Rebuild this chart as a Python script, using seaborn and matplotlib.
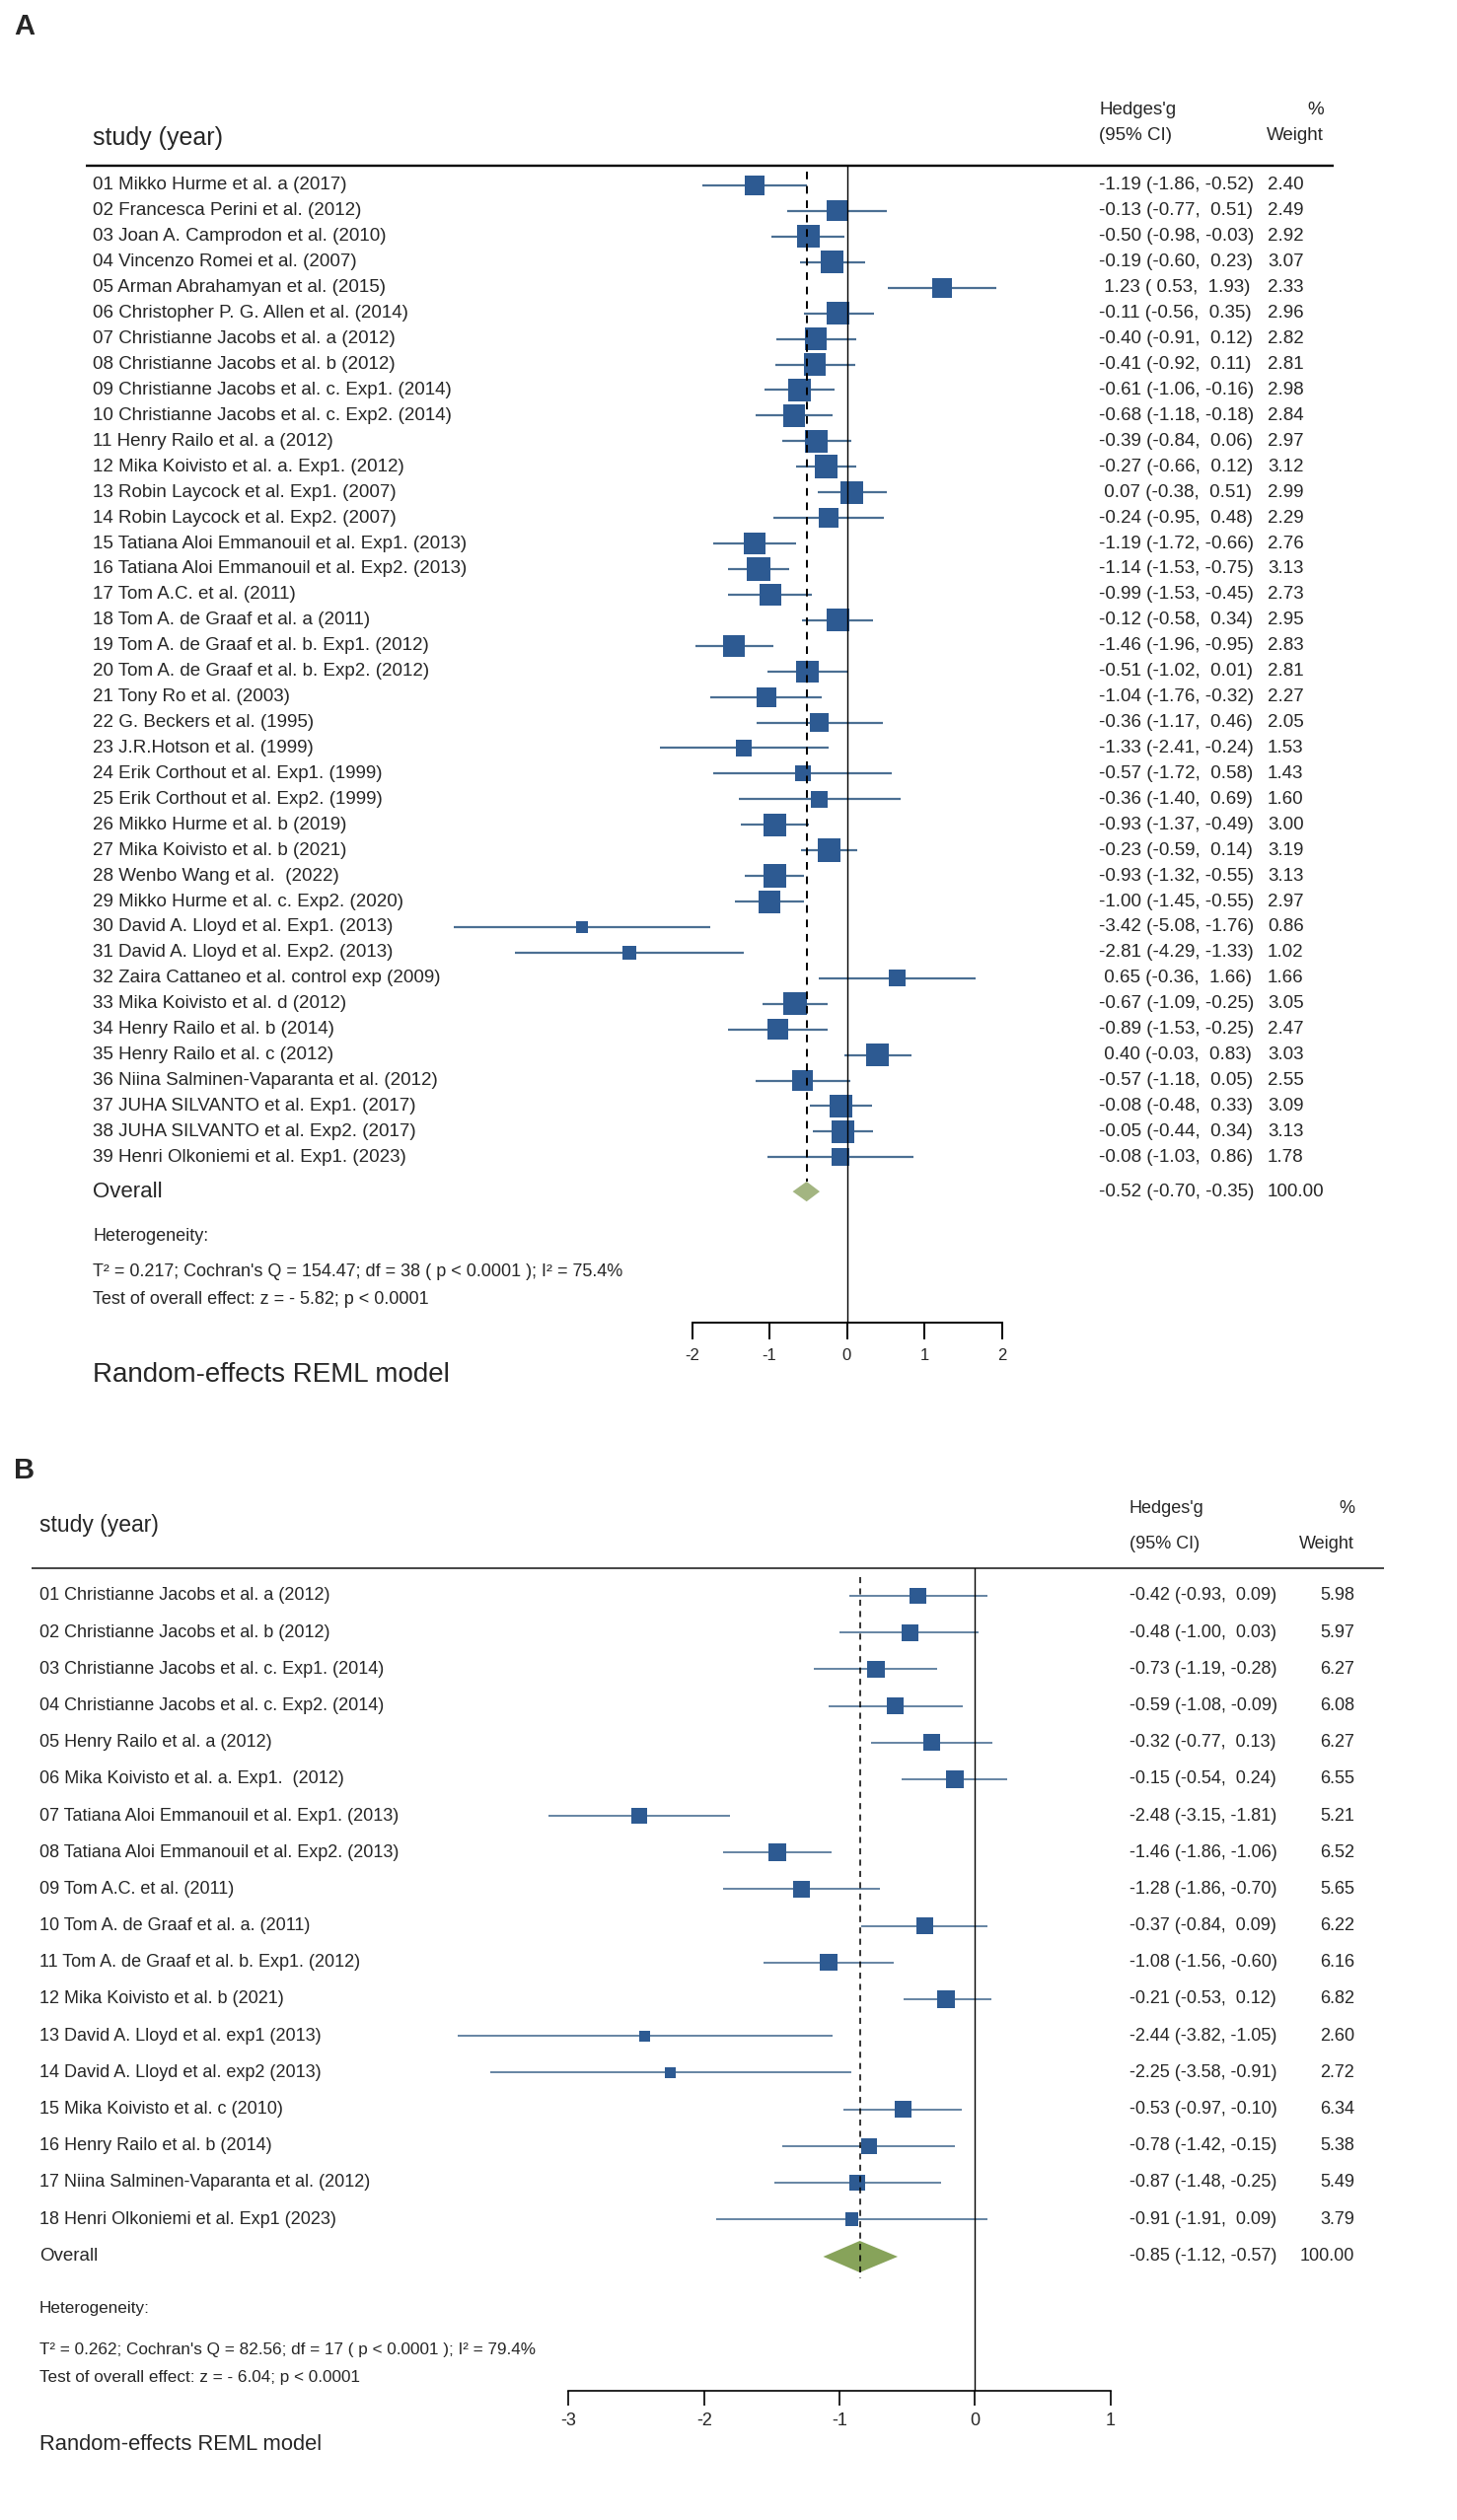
import numpy as np
import pandas as pd
import matplotlib
matplotlib.use('Agg')
import matplotlib.pyplot as plt
import matplotlib.transforms as mtransforms
import seaborn as sns

# ---------------- data, panel A ----------------
studies_a = [
    "01 Mikko Hurme et al. a (2017)",
    "02 Francesca Perini et al. (2012)",
    "03 Joan A. Camprodon et al. (2010)",
    "04 Vincenzo Romei et al. (2007)",
    "05 Arman Abrahamyan et al. (2015)",
    "06 Christopher P. G. Allen et al. (2014)",
    "07 Christianne Jacobs et al. a (2012)",
    "08 Christianne Jacobs et al. b (2012)",
    "09 Christianne Jacobs et al. c. Exp1. (2014)",
    "10 Christianne Jacobs et al. c. Exp2. (2014)",
    "11 Henry Railo et al. a (2012)",
    "12 Mika Koivisto et al. a. Exp1. (2012)",
    "13 Robin Laycock et al. Exp1. (2007)",
    "14 Robin Laycock et al. Exp2. (2007)",
    "15 Tatiana Aloi Emmanouil et al. Exp1. (2013)",
    "16 Tatiana Aloi Emmanouil et al. Exp2. (2013)",
    "17 Tom A.C. et al. (2011)",
    "18 Tom A. de Graaf et al. a (2011)",
    "19 Tom A. de Graaf et al. b. Exp1. (2012)",
    "20 Tom A. de Graaf et al. b. Exp2. (2012)",
    "21 Tony Ro et al. (2003)",
    "22 G. Beckers et al. (1995)",
    "23 J.R.Hotson et al. (1999)",
    "24 Erik Corthout et al. Exp1. (1999)",
    "25 Erik Corthout et al. Exp2. (1999)",
    "26 Mikko Hurme et al. b (2019)",
    "27 Mika Koivisto et al. b (2021)",
    "28 Wenbo Wang et al.  (2022)",
    "29 Mikko Hurme et al. c. Exp2. (2020)",
    "30 David A. Lloyd et al. Exp1. (2013)",
    "31 David A. Lloyd et al. Exp2. (2013)",
    "32 Zaira Cattaneo et al. control exp (2009)",
    "33 Mika Koivisto et al. d (2012)",
    "34 Henry Railo et al. b (2014)",
    "35 Henry Railo et al. c (2012)",
    "36 Niina Salminen-Vaparanta et al. (2012)",
    "37 JUHA SILVANTO et al. Exp1. (2017)",
    "38 JUHA SILVANTO et al. Exp2. (2017)",
    "39 Henri Olkoniemi et al. Exp1. (2023)",
]
g_a = [-1.19, -0.13, -0.50, -0.19, 1.23, -0.11, -0.40, -0.41, -0.61, -0.68,
       -0.39, -0.27, 0.07, -0.24, -1.19, -1.14, -0.99, -0.12, -1.46, -0.51,
       -1.04, -0.36, -1.33, -0.57, -0.36, -0.93, -0.23, -0.93, -1.00, -3.42,
       -2.81, 0.65, -0.67, -0.89, 0.40, -0.57, -0.08, -0.05, -0.08]
lo_a = [-1.86, -0.77, -0.98, -0.60, 0.53, -0.56, -0.91, -0.92, -1.06, -1.18,
        -0.84, -0.66, -0.38, -0.95, -1.72, -1.53, -1.53, -0.58, -1.96, -1.02,
        -1.76, -1.17, -2.41, -1.72, -1.40, -1.37, -0.59, -1.32, -1.45, -5.08,
        -4.29, -0.36, -1.09, -1.53, -0.03, -1.18, -0.48, -0.44, -1.03]
hi_a = [-0.52, 0.51, -0.03, 0.23, 1.93, 0.35, 0.12, 0.11, -0.16, -0.18,
        0.06, 0.12, 0.51, 0.48, -0.66, -0.75, -0.45, 0.34, -0.95, 0.01,
        -0.32, 0.46, -0.24, 0.58, 0.69, -0.49, 0.14, -0.55, -0.55, -1.76,
        -1.33, 1.66, -0.25, -0.25, 0.83, 0.05, 0.33, 0.34, 0.86]
w_a = [2.40, 2.49, 2.92, 3.07, 2.33, 2.96, 2.82, 2.81, 2.98, 2.84,
       2.97, 3.12, 2.99, 2.29, 2.76, 3.13, 2.73, 2.95, 2.83, 2.81,
       2.27, 2.05, 1.53, 1.43, 1.60, 3.00, 3.19, 3.13, 2.97, 0.86,
       1.02, 1.66, 3.05, 2.47, 3.03, 2.55, 3.09, 3.13, 1.78]
overall_a = (-0.52, -0.70, -0.35, 100.00)
het_a = ["Heterogeneity:",
         "T\u00b2 = 0.217; Cochran's Q = 154.47; df = 38 ( p < 0.0001 ); I\u00b2 = 75.4%",
         "Test of overall effect: z = - 5.82; p < 0.0001"]
ticks_a = [-2, -1, 0, 1, 2]

# ---------------- data, panel B ----------------
studies_b = [
    "01 Christianne Jacobs et al. a (2012)",
    "02 Christianne Jacobs et al. b (2012)",
    "03 Christianne Jacobs et al. c. Exp1. (2014)",
    "04 Christianne Jacobs et al. c. Exp2. (2014)",
    "05 Henry Railo et al. a (2012)",
    "06 Mika Koivisto et al. a. Exp1.  (2012)",
    "07 Tatiana Aloi Emmanouil et al. Exp1. (2013)",
    "08 Tatiana Aloi Emmanouil et al. Exp2. (2013)",
    "09 Tom A.C. et al. (2011)",
    "10 Tom A. de Graaf et al. a. (2011)",
    "11 Tom A. de Graaf et al. b. Exp1. (2012)",
    "12 Mika Koivisto et al. b (2021)",
    "13 David A. Lloyd et al. exp1 (2013)",
    "14 David A. Lloyd et al. exp2 (2013)",
    "15 Mika Koivisto et al. c (2010)",
    "16 Henry Railo et al. b (2014)",
    "17 Niina Salminen-Vaparanta et al. (2012)",
    "18 Henri Olkoniemi et al. Exp1 (2023)",
]
g_b = [-0.42, -0.48, -0.73, -0.59, -0.32, -0.15, -2.48, -1.46, -1.28,
       -0.37, -1.08, -0.21, -2.44, -2.25, -0.53, -0.78, -0.87, -0.91]
lo_b = [-0.93, -1.00, -1.19, -1.08, -0.77, -0.54, -3.15, -1.86, -1.86,
        -0.84, -1.56, -0.53, -3.82, -3.58, -0.97, -1.42, -1.48, -1.91]
hi_b = [0.09, 0.03, -0.28, -0.09, 0.13, 0.24, -1.81, -1.06, -0.70,
        0.09, -0.60, 0.12, -1.05, -0.91, -0.10, -0.15, -0.25, 0.09]
w_b = [5.98, 5.97, 6.27, 6.08, 6.27, 6.55, 5.21, 6.52, 5.65,
       6.22, 6.16, 6.82, 2.60, 2.72, 6.34, 5.38, 5.49, 3.79]
overall_b = (-0.85, -1.12, -0.57, 100.00)
het_b = ["Heterogeneity:",
         "T\u00b2 = 0.262; Cochran's Q = 82.56; df = 17 ( p < 0.0001 ); I\u00b2 = 79.4%",
         "Test of overall effect: z = - 6.04; p < 0.0001"]
ticks_b = [-3, -2, -1, 0, 1]

sns.set_theme(style='white')
plt.rcParams['font.family'] = ['Liberation Sans', 'DejaVu Sans']
plt.rcParams['axes.unicode_minus'] = False

W, H = 1477, 2555
fig = plt.figure(figsize=(W / 100, H / 100), dpi=100)

SQ = '#2d5a92'
LN = '#4b6f93'


def ci_text(g, lo, hi):
    return f"{g:5.2f} ({lo:5.2f}, {hi:5.2f})"


def forest(names, g, lo, hi, w, overall, het, ticks, st):
    df = pd.DataFrame({'study': names, 'g': g, 'lo': lo, 'hi': hi, 'w': w})
    df['row'] = np.arange(1, len(df) + 1)
    n = len(df)

    def row_at(py):
        return 1 + (py - st['row1']) / st['step']

    ax = fig.add_axes([0, 1 - st['y_axis'] / H, 1, (st['y_axis'] - st['y_top']) / H])
    ax.set_xlim(-st['x0'] / st['ppu'], (W - st['x0']) / st['ppu'])
    ytop, ybot = row_at(st['y_top']), row_at(st['y_axis'])
    ax.set_ylim(ybot, ytop)

    ax.hlines(df['row'], df['lo'], df['hi'], color=LN, lw=st['ci_lw'], zorder=2)
    k = st['k']
    sns.scatterplot(data=df, x='g', y='row', size='w',
                    sizes=(k * df['w'].min(), k * df['w'].max()),
                    marker='s', color=SQ, linewidth=0, legend=False,
                    ax=ax, zorder=3)

    og, olo, ohi, ow = overall
    orow = n + st['ov_gap']
    h = st['dh']
    ax.fill([olo, og, ohi, og], [orow, orow - h, orow, orow + h],
            color=st['dia'], lw=0, zorder=3)
    ax.axvline(0, color='black', lw=1.0, zorder=4)
    ax.vlines(og, ytop + 0.25, orow + st['dash_end'] * h, color='black',
              lw=st['dash_lw'], linestyles=(0, (4, 3.5)), zorder=4)

    ax.set_xlabel('')
    ax.set_ylabel('')
    ax.set_yticks([])
    for s in ['top', 'left', 'right']:
        ax.spines[s].set_visible(False)
    ax.spines['bottom'].set_bounds(ticks[0], ticks[-1])
    ax.spines['bottom'].set_color('black')
    ax.spines['bottom'].set_linewidth(st['ax_lw'])
    ax.set_xticks(ticks)
    ax.set_xticklabels([str(t) for t in ticks])
    ax.tick_params(axis='x', direction='out', length=st['tick_len'],
                   width=st['ax_lw'], pad=st['tick_pad'],
                   labelsize=st['tick_fs'], bottom=True, color='black')

    # header rule
    ax.plot([st['rule'][0] / W, st['rule'][1] / W], [1, 1], transform=ax.transAxes,
            color=st['rule_c'], lw=st['rule_lw'], clip_on=False, solid_capstyle='butt')

    tr = mtransforms.blended_transform_factory(ax.transAxes, ax.transData)
    fs = st['fs']
    for _, r in df.iterrows():
        ax.text(st['x_lab'] / W, r['row'], r['study'], transform=tr,
                fontsize=fs, va='center', ha='left')
        ax.text(st['x_ci'] / W, r['row'], ci_text(r['g'], r['lo'], r['hi']),
                transform=tr, fontsize=fs, va='center', ha='left')
        ax.text(st['x_w'] / W, r['row'], f"{r['w']:.2f}", transform=tr,
                fontsize=fs, va='center', ha=st['w_ha'])
    ax.text(st['x_lab'] / W, orow, 'Overall', transform=tr,
            fontsize=st['ov_fs'], va='center', ha='left')
    ax.text(st['x_ci'] / W, orow, ci_text(og, olo, ohi), transform=tr,
            fontsize=fs, va='center', ha='left')
    ax.text(st['x_w'] / W, orow, f"{ow:.2f}", transform=tr,
            fontsize=fs, va='center', ha=st['w_ha'])
    for txt, py in zip(het, st['het_y']):
        ax.text(st['x_lab'] / W, row_at(py), txt, transform=tr,
                fontsize=st['het_fs'], va='center', ha='left')

    # titles above / below the axes
    fig.text(st['x_lab'] / W, 1 - st['study_y'] / H, 'study (year)',
             fontsize=st['study_fs'], va='center', ha='left')
    fig.text(st['x_ci'] / W, 1 - st['h1_y'] / H, "Hedges'g", fontsize=fs, va='center')
    fig.text(st['x_ci'] / W, 1 - st['h2_y'] / H, "(95% CI)", fontsize=fs, va='center')
    fig.text(st['x_pct'] / W, 1 - st['h1_y'] / H, "%", fontsize=fs, va='center', ha='right')
    fig.text(st['x_pct'] / W, 1 - st['h2_y'] / H, "Weight", fontsize=fs, va='center', ha='right')
    fig.text(st['x_lab'] / W, 1 - st['model_y'] / H, 'Random-effects REML model',
             fontsize=st['model_fs'], va='center', ha='left')
    fig.text(14 / W, 1 - st['panel_y'] / H, st['panel'], fontsize=21,
             fontweight='bold', va='center', ha='left')
    return ax


style_a = dict(panel='A', panel_y=27, x0=858.5, ppu=78.5, y_top=168, y_axis=1341,
               row1=188, step=25.93, k=(0.72 * 13.3) ** 2, ci_lw=1.6,
               ov_gap=1.34, dh=0.39, dia='#a3b581', dash_end=-1.0, dash_lw=1.4,
               ax_lw=1.4, tick_len=12, tick_pad=7, tick_fs=12,
               rule=(87, 1352), rule_c='black', rule_lw=1.7,
               x_lab=94, x_ci=1114, x_w=1285, w_ha='left', x_pct=1342,
               fs=13.5, ov_fs=16, het_fs=13,
               het_y=(1254, 1290, 1317),
               study_y=140, study_fs=18, h1_y=112, h2_y=137,
               model_y=1394, model_fs=20)

style_b = dict(panel='B', panel_y=1491, x0=988.3, ppu=137.3, y_top=1590, y_axis=2424,
               row1=1618, step=37.18, k=(0.72 * 6.9) ** 2, ci_lw=1.2,
               ov_gap=1.02, dh=0.43, dia='#87a35a', dash_end=1.4, dash_lw=1.1,
               ax_lw=1.2, tick_len=11, tick_pad=4.5, tick_fs=13,
               rule=(32, 1403), rule_c='#444444', rule_lw=1.4,
               x_lab=40, x_ci=1145, x_w=1373, w_ha='right', x_pct=1373,
               fs=13, ov_fs=13.5, het_fs=12.3,
               het_y=(2341, 2382, 2411),
               study_y=1547, study_fs=16.5, h1_y=1529, h2_y=1566,
               model_y=2479, model_fs=15.8)

forest(studies_a, g_a, lo_a, hi_a, w_a, overall_a, het_a, ticks_a, style_a)
forest(studies_b, g_b, lo_b, hi_b, w_b, overall_b, het_b, ticks_b, style_b)

fig.savefig('out.png', dpi=100)
